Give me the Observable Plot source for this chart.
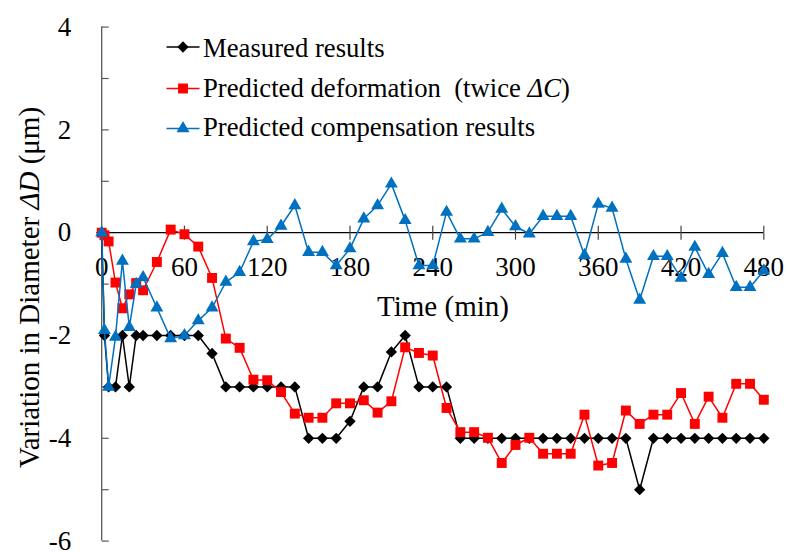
<!DOCTYPE html>
<html>
<head>
<meta charset="utf-8">
<script src="https://cdn.jsdelivr.net/npm/d3@7"></script>
<script src="https://cdn.jsdelivr.net/npm/@observablehq/plot@0.6"></script>
<style>
  html, body { margin: 0; padding: 0; background: #fff; }
  #chart svg { display: block; }
</style>
</head>
<body>
<div id="chart"></div>
<script>
// ---- data ----
const time = [0, 2, 5, 10, 15, 20, 25, 30, 40, 50, 60, 70, 80, 90, 100, 110, 120, 130, 140, 150,
  160, 170, 180, 190, 200, 210, 220, 230, 240, 250, 260, 270, 280, 290, 300, 310, 320, 330, 340, 350,
  360, 370, 380, 390, 400, 410, 420, 430, 440, 450, 460, 470, 480];
const measured = [0, -2, -3, -3, -2, -3, -2, -2, -2, -2, -2, -2, -2.35, -3, -3, -3, -3, -3, -3, -4,
  -4, -4, -3.67, -3, -3, -2.32, -2, -3, -3, -3, -4, -4, -4, -4, -4, -4, -4, -4, -4, -4,
  -4, -4, -4, -5, -4, -4, -4, -4, -4, -4, -4, -4, -4];
const predicted = [0, -0.05, -0.17, -0.97, -1.47, -1.2, -0.98, -1.12, -0.57, 0.06, -0.03, -0.27, -0.88, -2.06, -2.24, -2.86, -2.87, -3.1, -3.52, -3.6,
  -3.6, -3.32, -3.32, -3.26, -3.5, -3.28, -2.23, -2.34, -2.39, -3.41, -3.88, -3.88, -3.99, -4.48, -4.13, -3.99, -4.3, -4.3, -4.3, -3.54,
  -4.53, -4.48, -3.46, -3.72, -3.54, -3.54, -3.12, -3.72, -3.19, -3.6, -2.94, -2.94, -3.25];
const compensation = [0, -1.9, -3, -2.03, -0.55, -1.84, -1.0, -0.87, -1.46, -2.06, -2.0, -1.71, -1.46, -0.96, -0.77, -0.17, -0.13, 0.13, 0.53, -0.38,
  -0.38, -0.64, -0.31, 0.27, 0.53, 0.95, 0.24, -0.64, -0.64, 0.4, -0.12, -0.12, 0.01, 0.46, 0.12, -0.02, 0.32, 0.32, 0.32, -0.44,
  0.56, 0.48, -0.51, -1.31, -0.46, -0.46, -0.88, -0.28, -0.81, -0.4, -1.06, -1.06, -0.74];
const xTicks = [0, 60, 120, 180, 240, 300, 360, 420, 480];
const yTicks = [4, 2, 0, -2, -4, -6];
const yTickMarks = [4, 3, 2, 1, 0, -1, -2, -3, -4, -5, -6];
const seriesNames = ["Measured results", "Predicted deformation", "Predicted compensation results"];
const seriesColors = ["#000000", "#FF0000", "#0070C0"];

// ---- build ----
const rows = (vals) => time.map((t, i) => ({t, v: vals[i]}));
const dMeasured = rows(measured), dPredicted = rows(predicted), dComp = rows(compensation);

const serif = "'Liberation Serif', 'Times New Roman', serif";
const vTick = {draw(ctx) { ctx.moveTo(0, -7); ctx.lineTo(0, 7); }};
const hTick = {draw(ctx) { ctx.moveTo(0, 0); ctx.lineTo(7, 0); }};
const rDiamond = 5.1, rSquare = 5.6, rTriangle = 4.8;

const series = (data, color, symbol, r) => [
  Plot.line(data, {x: "t", y: "v", stroke: color, strokeWidth: 1.5}),
  Plot.dot(data, {x: "t", y: "v", symbol, r, fill: color, stroke: "none"})
];

const chart = Plot.plot({
  width: 787,
  height: 552,
  marginLeft: 101.2,
  marginRight: 23.7,
  marginTop: 26.6,
  marginBottom: 11.4,
  style: {fontFamily: serif, background: "#fff", color: "#000", overflow: "visible"},
  x: {domain: [0, 480], axis: null},
  y: {domain: [-6, 4], axis: null},
  marks: [
    Plot.axisY(yTicks, {anchor: "left", tickSize: 0, tickPadding: 30.5, fontSize: 27, tickFormat: d => String(d), label: null, fill: "#000"}),
    Plot.text(xTicks, {x: d => d, y: () => 0, dy: 35, text: d => String(d), fontSize: 27, fill: "#000"}),
    Plot.ruleX([0], {stroke: "#595959", strokeWidth: 1.3}),
    Plot.ruleY([0], {stroke: "#000", strokeWidth: 1.3}),
    Plot.dot(xTicks.slice(1), {x: d => d, y: () => 0, symbol: vTick, fill: "none", stroke: "#444", strokeWidth: 1.2}),
    Plot.dot(yTickMarks, {x: () => 0, y: d => d, symbol: hTick, fill: "none", stroke: "#595959", strokeWidth: 1.2}),
    ...series(dMeasured, seriesColors[0], "diamond2", rDiamond),
    ...series(dPredicted, seriesColors[1], "square", rSquare),
    ...series(dComp, seriesColors[2], "triangle", rTriangle)
  ]
});

document.getElementById("chart").appendChild(chart);

// ---- titles and legend drawn into the same SVG ----
const svg = d3.select(chart);
svg.style("font-family", serif);

svg.append("text")
  .attr("x", 443).attr("y", 315.5)
  .attr("text-anchor", "middle")
  .attr("font-size", 29).attr("fill", "#000")
  .text("Time (min)");

const yt = svg.append("text")
  .attr("transform", "translate(39,287.5) rotate(-90)")
  .attr("text-anchor", "middle")
  .attr("font-size", 29).attr("fill", "#000");
yt.append("tspan").text("Variation in Diameter ");
yt.append("tspan").attr("font-style", "italic").text("ΔD");
yt.append("tspan").text(" (μm)");

const legendSymbols = [
  d3.symbol(d3.symbolDiamond2, Math.PI * rDiamond * rDiamond),
  d3.symbol(d3.symbolSquare, Math.PI * rSquare * rSquare),
  d3.symbol(d3.symbolTriangle, Math.PI * rTriangle * rTriangle)
];
const lineY = [47, 88.5, 128.5];
const baseY = [56.5, 96.5, 135.5];
const lg = svg.append("g").attr("text-anchor", "start");
seriesNames.forEach((name, i) => {
  lg.append("line")
    .attr("x1", 166.5).attr("x2", 199.5)
    .attr("y1", lineY[i]).attr("y2", lineY[i])
    .attr("stroke", seriesColors[i]).attr("stroke-width", 1.5);
  lg.append("path")
    .attr("d", legendSymbols[i]())
    .attr("transform", `translate(183,${lineY[i]})`)
    .attr("fill", seriesColors[i]);
  const t = lg.append("text")
    .attr("x", 203).attr("y", baseY[i])
    .attr("text-anchor", "start")
    .attr("font-size", 26.7).attr("fill", "#000");
  t.append("tspan").text(name);
  if (i === 1) {
    t.append("tspan").text("\u00a0\u00a0(twice ");
    t.append("tspan").attr("font-style", "italic").text("ΔC");
    t.append("tspan").text(")");
  }
});
</script>
</body>
</html>
